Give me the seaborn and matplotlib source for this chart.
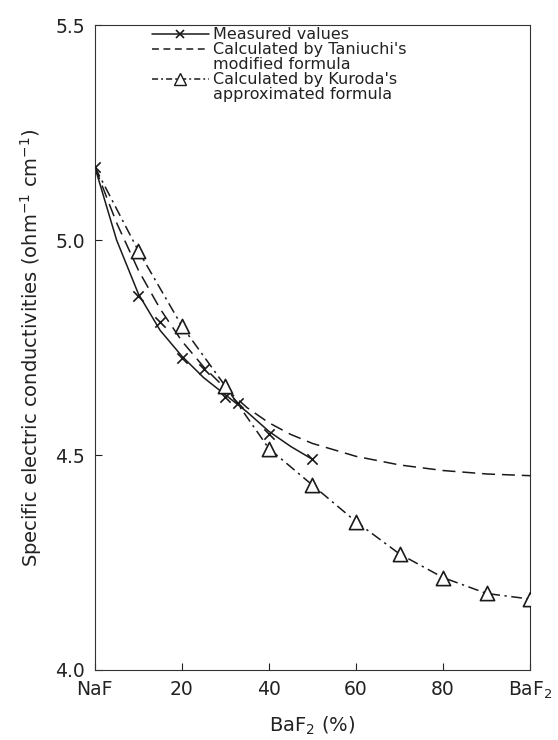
import matplotlib
matplotlib.use("Agg")
import matplotlib.pyplot as plt
import seaborn as sns
from matplotlib.lines import Line2D

sns.set_theme(style="white")
plt.rcParams['font.family'] = ['DejaVu Sans']
plt.rcParams['mathtext.fontset'] = 'dejavusans'

# Measured values (markers)
meas_x = [0, 10, 15, 20, 25, 30, 33, 40, 50]
meas_y = [5.17, 4.87, 4.81, 4.725, 4.70, 4.635, 4.62, 4.55, 4.49]
meas_curve_x = [0, 5, 10, 15, 20, 25, 30, 35, 40, 45, 50]
meas_curve_y = [5.17, 5.00, 4.875, 4.79, 4.73, 4.68, 4.64, 4.60, 4.555, 4.52, 4.49]
# Taniuchi's modified formula
tan_x = [0, 5, 10, 15, 20, 25, 30, 35, 40, 45, 50, 60, 70, 80, 90, 100]
tan_y = [5.17, 5.04, 4.93, 4.84, 4.765, 4.705, 4.655, 4.61, 4.575, 4.548,
         4.527, 4.497, 4.477, 4.464, 4.456, 4.452]
# Kuroda's approximated formula
kur_x = [0, 10, 20, 30, 40, 50, 60, 70, 80, 90, 100]
kur_y = [5.17, 4.975, 4.80, 4.66, 4.515, 4.43, 4.345, 4.27, 4.215, 4.178, 4.165]
kur_mx = kur_x[1:]
kur_my = kur_y[1:]

xticks = [0, 20, 40, 60, 80, 100]
xticklabels = ["NaF", "20", "40", "60", "80", "BaF$_2$"]
yticks = [4.0, 4.5, 5.0, 5.5]
yticklabels = ["4.0", "4.5", "5.0", "5.5"]

fig = plt.figure(figsize=(5.58, 7.4), dpi=100)
ax = fig.add_axes([0.170, 0.0946, 0.780, 0.8714])

lw = 1.1
sns.lineplot(x=meas_curve_x, y=meas_curve_y, ax=ax, color='k', lw=lw,
             estimator=None, sort=False)
sns.lineplot(x=tan_x, y=tan_y, ax=ax, color='k', lw=lw, linestyle=(0, (8.5, 4.5)),
             estimator=None, sort=False)
sns.lineplot(x=kur_x, y=kur_y, ax=ax, color='k', lw=lw, linestyle=(0, (7, 3, 1.5, 3)),
             estimator=None, sort=False)
sns.scatterplot(x=meas_x, y=meas_y, ax=ax, marker='x', s=55, color='k',
                linewidth=1.2, zorder=5)
sns.scatterplot(x=kur_mx, y=kur_my, ax=ax, marker='^', s=105, facecolor='white',
                edgecolor='k', linewidth=1.2, zorder=5)

ax.set_xlim(0, 100)
ax.set_ylim(4.0, 5.5)
ax.set_xticks(xticks)
ax.set_xticklabels(xticklabels)
ax.set_yticks(yticks)
ax.set_yticklabels(yticklabels)
ax.tick_params(direction='in', length=5, width=0.8, labelsize=13.5, colors='#222222',
               pad=7, bottom=True, left=True, top=False, right=False)
for sp in ax.spines.values():
    sp.set_visible(True)
    sp.set_linewidth(0.8)
    sp.set_color('#333333')

ax.set_xlabel("BaF$_2$ (%)", fontsize=14, color='#222222', labelpad=10)
ax.set_ylabel("Specific electric conductivities (ohm$^{-1}$ cm$^{-1}$)",
              fontsize=14, color='#222222', labelpad=8)

blank = Line2D([], [], ls='none')
handles = [
    Line2D([], [], color='k', lw=lw, marker='x', markersize=6, markeredgewidth=1.2),
    Line2D([], [], color='k', lw=lw, linestyle=(0, (4.5, 3))),
    blank,
    Line2D([], [], color='k', lw=lw, linestyle=(0, (4, 2, 1.2, 2)), marker='^',
           markersize=8, markerfacecolor='white', markeredgecolor='k'),
    blank,
]
labels = ["Measured values", "Calculated by Taniuchi's", "modified formula",
          "Calculated by Kuroda's", "approximated formula"]
ax.legend(handles, labels, loc='upper left', bbox_to_anchor=(0.131, 0.997),
          frameon=False, fontsize=11.5, handlelength=3.55, handletextpad=0.26,
          labelspacing=0.0, borderaxespad=0.0, borderpad=0.0, numpoints=1,
          labelcolor='#222222')

fig.savefig("out.png", dpi=100)
